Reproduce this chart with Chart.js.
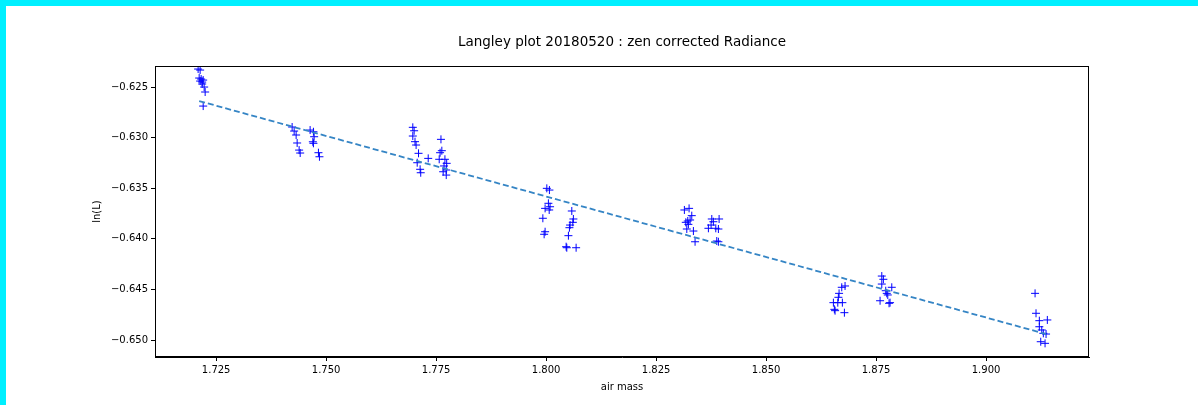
<!DOCTYPE html>
<html>
<head>
<meta charset="utf-8">
<script src="https://cdn.jsdelivr.net/npm/chart.js@4/dist/chart.umd.min.js"></script>
<style>
  html,body{margin:0;padding:0;background:#00f0ff;}
  #wrap{position:absolute;left:6px;top:6px;width:1192px;height:399px;background:#fff;}
</style>
</head>
<body>
<div id="wrap"><canvas id="chart" width="1192" height="399"></canvas></div>
<script>
const titleText = "Langley plot 20180520 : zen corrected Radiance";

// measured points (air mass, ln of zenith corrected radiance)
const airMass = [
  1.72090,1.72136,1.72114,1.72159,1.72205,1.72136,1.72182,1.72182,1.72227,1.72250,1.72205,
  1.74227,1.74273,1.74318,1.74341,1.74386,1.74410,1.74636,1.74711,1.74727,1.74698,1.74711,1.74825,1.74848,
  1.76970,1.77000,1.76970,1.77020,1.77045,1.77100,1.77070,1.77136,1.77150,1.77320,
  1.77610,1.77630,1.77590,1.77570,1.77700,1.77740,1.77680,1.77730,1.77660,1.77730,
  1.80016,1.80075,1.80052,1.79977,1.80090,1.80070,1.79926,1.79977,1.79955,
  1.80584,1.80620,1.80607,1.80545,1.80530,1.80507,1.80455,1.80470,1.80682,
  1.83143,1.83250,1.83311,1.83273,1.83220,1.83175,1.83234,1.83198,1.83348,1.83386,
  1.83766,1.83802,1.83932,1.83750,1.83857,1.83689,1.83916,1.83879,1.83916,
  1.86720,1.86795,1.86659,1.86643,1.86530,1.86630,1.86734,1.86552,1.86568,1.86780,
  1.87630,1.87666,1.87630,1.87857,1.87720,1.87743,1.87591,1.87766,1.87818,1.87795,
  1.91114,1.91136,1.91211,1.91393,1.91211,1.91266,1.91302,1.91364,1.91243,1.91341
];
const lnL = [
  -0.62322,-0.62332,-0.62411,-0.62421,-0.62431,-0.62441,-0.62451,-0.62470,-0.62500,-0.62549,-0.62688,
  -0.62895,-0.62935,-0.62974,-0.63053,-0.63123,-0.63152,-0.62925,-0.62942,-0.62991,-0.63041,-0.63056,-0.63149,-0.63189,
  -0.62898,-0.62932,-0.62984,-0.63040,-0.63073,-0.63155,-0.63248,-0.63313,-0.63347,-0.63205,
  -0.63017,-0.63129,-0.63149,-0.63214,-0.63214,-0.63254,-0.63280,-0.63320,-0.63337,-0.63370,
  -0.63501,-0.63518,-0.63649,-0.63699,-0.63683,-0.63715,-0.63797,-0.63930,-0.63955,
  -0.63725,-0.63804,-0.63837,-0.63864,-0.63890,-0.63969,-0.64078,-0.64088,-0.64088,
  -0.63715,-0.63699,-0.63771,-0.63814,-0.63824,-0.63837,-0.63857,-0.63903,-0.63923,-0.64029,
  -0.63804,-0.63831,-0.63804,-0.63864,-0.63896,-0.63896,-0.63903,-0.64022,-0.64029,
  -0.64479,-0.64466,-0.64539,-0.64578,-0.64631,-0.64631,-0.64631,-0.64697,-0.64710,-0.64730,
  -0.64368,-0.64400,-0.64447,-0.64479,-0.64513,-0.64539,-0.64612,-0.64555,-0.64631,-0.64637,
  -0.64539,-0.64736,-0.64809,-0.64802,-0.64869,-0.64901,-0.64934,-0.64941,-0.65017,-0.65033
];

// linear fit end points
const fitX = [1.72114, 1.91364];
const fitY = [-0.62638, -0.64941];

const xTicks = [1.725,1.750,1.775,1.800,1.825,1.850,1.875,1.900];
const yTicks = [-0.650,-0.645,-0.640,-0.635,-0.630,-0.625];

const fontFam = "'DejaVu Sans', sans-serif";
const minus = v => (v < 0 ? "\u2212" : "") + Math.abs(v).toFixed(3);

const frame = {
  id: "frame",
  afterDatasetsDraw(chart){
    const {ctx, chartArea:a} = chart;
    ctx.save();
    ctx.strokeStyle = "#000";
    ctx.lineWidth = 1;
    ctx.strokeRect(a.left+0.5, a.top+0.5, a.right-a.left-1, a.bottom-a.top-1);
    ctx.fillStyle = "#000";
    ctx.font = "13.5px " + fontFam;
    ctx.textAlign = "center";
    ctx.textBaseline = "middle";
    ctx.fillText(titleText, (a.left+a.right)/2, 36);
    ctx.restore();
  }
};

new Chart(document.getElementById("chart"), {
  type: "scatter",
  data: {
    datasets: [
      {
        label: "data",
        data: airMass.map((x,i)=>({x, y: lnL[i]})),
        pointStyle: "cross",
        pointRadius: 4,
        pointBorderWidth: 1,
        borderColor: "#0000ff",
        backgroundColor: "#0000ff",
        order: 2
      },
      {
        type: "line",
        label: "fit",
        data: fitX.map((x,i)=>({x, y: fitY[i]})),
        borderColor: "#3585c5",
        borderWidth: 1.8,
        borderDash: [6, 3],
        pointRadius: 0,
        fill: false,
        order: 1
      }
    ]
  },
  options: {
    responsive: false,
    animation: false,
    layout: {padding: {left: 0, top: 60, right: 109, bottom: 0}},
    plugins: {legend: {display: false}, tooltip: {enabled: false}},
    scales: {
      x: {
        type: "linear",
        min: 1.7111, max: 1.9234,
        afterFit(s){ s.height = 48; },
        afterBuildTicks(s){ s.ticks = xTicks.map(v=>({value:v})); },
        grid: {drawOnChartArea: false, tickLength: 4, tickColor: "#000"},
        border: {color: "#000"},
        ticks: {color: "#000", font: {family: fontFam, size: 10}, padding: 3, maxRotation: 0,
                callback: v => v.toFixed(3)},
        title: {display: true, text: "air mass", color: "#000",
                font: {family: fontFam, size: 10}, padding: {bottom: 12}}
      },
      y: {
        type: "linear",
        min: -0.65168, max: -0.62292,
        afterFit(s){ s.width = 149; },
        afterBuildTicks(s){ s.ticks = yTicks.map(v=>({value:v})); },
        grid: {drawOnChartArea: false, tickLength: 4, tickColor: "#000"},
        border: {color: "#000"},
        ticks: {color: "#000", font: {family: fontFam, size: 10}, padding: 3,
                callback: v => minus(v)},
        title: {display: true, text: "ln(L)", color: "#000",
                font: {family: fontFam, size: 10}, padding: {top: 85}}
      }
    }
  },
  plugins: [frame]
});
</script>
</body>
</html>
